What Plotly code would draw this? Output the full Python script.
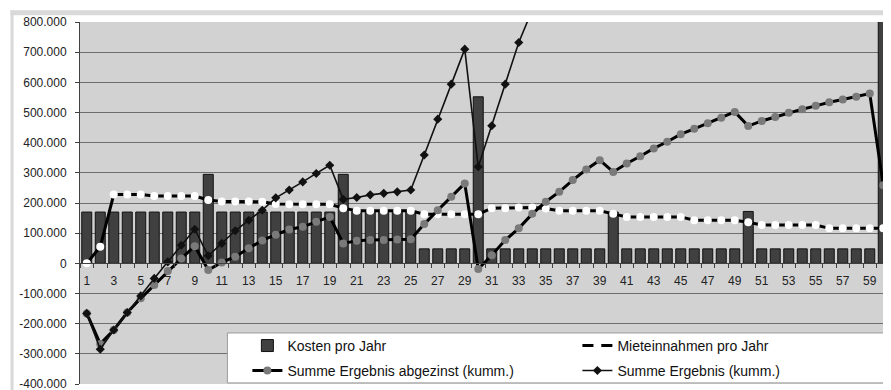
import plotly.graph_objects as go

years = list(range(1, 61))

kosten_pro_jahr = [
    170000, 170000, 170000, 170000, 170000, 170000, 170000, 170000, 170000, 295000,
    170000, 170000, 170000, 170000, 170000, 170000, 170000, 170000, 170000, 295000,
    172000, 172000, 172000, 172000, 172000, 48000, 48000, 48000, 48000, 552000,
    48000, 48000, 48000, 48000, 48000, 48000, 48000, 48000, 48000, 170000,
    48000, 48000, 48000, 48000, 48000, 48000, 48000, 48000, 48000, 172000,
    48000, 48000, 48000, 48000, 48000, 48000, 48000, 48000, 48000, 900000,
]

mieteinnahmen_pro_jahr = [
    0, 55000, 228000, 228000, 228000, 223000, 223000, 223000, 223000, 210000,
    205000, 205000, 205000, 204000, 197000, 196000, 196000, 196000, 196000, 183000,
    174000, 174000, 174000, 174000, 174000, 163000, 163000, 163000, 163000, 163000,
    183000, 183000, 185000, 185000, 182000, 174000, 174000, 174000, 174000, 164000,
    154000, 154000, 154000, 154000, 154000, 143000, 143000, 143000, 143000, 136000,
    127000, 127000, 127000, 127000, 127000, 116000, 116000, 116000, 116000, 116000,
]

summe_abgezinst = [
    -166000, -267000, -221000, -163000, -116000, -72000, -25000, 16000, 57000, -22000,
    3000, 22000, 50000, 76000, 95000, 112000, 121000, 138000, 154000, 66000,
    75000, 77000, 77000, 79000, 80000, 130000, 176000, 221000, 265000, -19000,
    27000, 77000, 116000, 164000, 204000, 237000, 276000, 311000, 342000, 303000,
    331000, 355000, 381000, 403000, 428000, 446000, 464000, 483000, 502000, 455000,
    472000, 485000, 499000, 511000, 522000, 534000, 543000, 552000, 563000, 259000,
]

summe_ergebnis = [
    -166000, -285000, -221000, -163000, -108000, -50000, 5000, 60000, 113000, 25000,
    66000, 108000, 143000, 176000, 217000, 243000, 270000, 298000, 325000, 212000,
    218000, 227000, 232000, 237000, 243000, 359000, 478000, 594000, 710000, 320000,
    456000, 594000, 732000, 840000, None, None, None, None, None, None,
    None, None, None, None, None, None, None, None, None, None,
    None, None, None, None, None, None, None, None, None, None,
]

y_tick_values = [-400000, -300000, -200000, -100000, 0, 100000, 200000, 300000, 400000,
                 500000, 600000, 700000, 800000]
y_tick_labels = ["-400.000", "-300.000", "-200.000", "-100.000", "0", "100.000", "200.000",
                 "300.000", "400.000", "500.000", "600.000", "700.000", "800.000"]
x_tick_values = list(range(1, 61, 2))
x_tick_labels = [str(v) for v in x_tick_values]

FONT = "Liberation Sans, Arial, sans-serif"

fig = go.Figure()
fig.add_trace(go.Bar(
    x=years, y=kosten_pro_jahr, name="Kosten pro Jahr",
    marker=dict(color="#404040", line=dict(color="#111111", width=1)),
    legend="legend",
))
fig.add_trace(go.Scatter(
    x=years, y=mieteinnahmen_pro_jahr, name="Mieteinnahmen pro Jahr", mode="lines+markers",
    line=dict(color="#000000", width=3),
    marker=dict(symbol="circle", size=8, color="#ffffff", line=dict(width=0)),
    legend="legend",
))
fig.add_trace(go.Scatter(
    x=years, y=summe_abgezinst, name="Summe Ergebnis abgezinst (kumm.)", mode="lines+markers",
    line=dict(color="#000000", width=3),
    marker=dict(symbol="circle", size=8, color="#7a7a7a", line=dict(width=0)),
    legend="legend2",
))
fig.add_trace(go.Scatter(
    x=years, y=summe_ergebnis, name="Summe Ergebnis (kumm.)", mode="lines+markers",
    line=dict(color="#111111", width=1.6),
    marker=dict(symbol="diamond", size=7, color="#111111", line=dict(width=0)),
    connectgaps=False,
    legend="legend2",
))

# The page body adds an 8px offset; work in screenshot pixels and convert.
OFF = 8
SCR_W, SCR_H = 891, 390
W, H = SCR_W - OFF, SCR_H - OFF
PL, PR, PT, PB = 79.5, 890, 21.7, 384.1   # plot area in screenshot pixels
L = PL - OFF
R = W - (PR - OFF)
T = PT - OFF
B = H - (PB - OFF)
pw = PR - PL
ph = PB - PT


def px_x(p):
    return (p - PL) / pw


def px_y(p):
    return (PB - p) / ph


shapes = [
    dict(type="rect", xref="paper", yref="paper", x0=px_x(10), x1=px_x(900), y0=px_y(15), y1=px_y(10),
         fillcolor="#d9d9d9", line=dict(width=0), layer="below"),
    dict(type="rect", xref="paper", yref="paper", x0=px_x(10), x1=px_x(13), y0=px_y(400), y1=px_y(10),
         fillcolor="#d9d9d9", line=dict(width=0), layer="below"),
    dict(type="rect", xref="paper", yref="paper", x0=px_x(227), x1=px_x(887), y0=px_y(383), y1=px_y(333),
         fillcolor="#ffffff", line=dict(color="#9a9a9a", width=1), layer="above"),
]

fig.update_layout(
    width=W, height=H,
    margin=dict(l=L, r=R, t=T, b=B, autoexpand=False),
    paper_bgcolor="#ffffff",
    plot_bgcolor="#d2d2d2",
    font=dict(family=FONT, size=12, color="#222222"),
    bargap=0.26,
    showlegend=True,
    shapes=shapes,
    legend=dict(orientation="h", x=px_x(247), xanchor="left", y=px_y(346), yanchor="middle",
                bgcolor="rgba(0,0,0,0)", borderwidth=0, entrywidth=285, entrywidthmode="pixels",
                font=dict(family=FONT, size=14, color="#111111"), traceorder="normal"),
    legend2=dict(orientation="h", x=px_x(247), xanchor="left", y=px_y(371), yanchor="middle",
                 bgcolor="rgba(0,0,0,0)", borderwidth=0, entrywidth=285, entrywidthmode="pixels",
                 font=dict(family=FONT, size=14, color="#111111"), traceorder="normal"),
    xaxis=dict(
        range=[0.5, 60.5], anchor="free", position=1/3,
        tickmode="array", tickvals=x_tick_values, ticktext=x_tick_labels,
        ticks="outside", ticklen=6, tickcolor="rgba(0,0,0,0)",
        showgrid=False, zeroline=False, showline=True, linecolor="#404040", linewidth=1,
        tickfont=dict(family=FONT, size=12, color="#222222"),
        minor=dict(tickmode="array", tickvals=[v + 0.5 for v in range(0, 61)], ticks="outside",
                   ticklen=4, tickcolor="#404040", showgrid=False),
    ),
    yaxis=dict(
        range=[-400000, 800000], tickmode="array", tickvals=y_tick_values, ticktext=y_tick_labels,
        showgrid=True, gridcolor="#6e6e6e", gridwidth=1, zeroline=False,
        showline=True, linecolor="#404040", linewidth=1,
        ticks="outside", ticklen=4, tickcolor="#404040", ticklabelstandoff=6,
        ticklabeloverflow="allow",
        tickfont=dict(family=FONT, size=12, color="#222222"),
    ),
)

fig.write_html("out.html")
